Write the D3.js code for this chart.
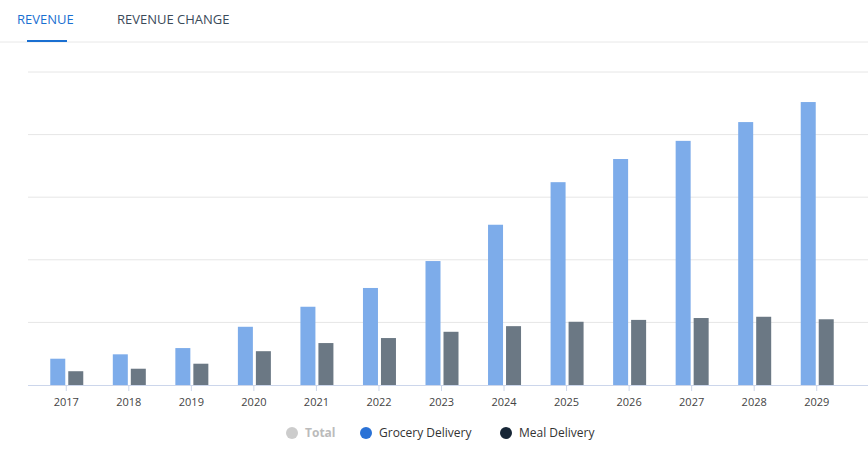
<!DOCTYPE html>
<html><head><meta charset="utf-8">
<script src="https://cdn.jsdelivr.net/npm/d3@7.9.0/dist/d3.min.js"></script>
<style>
body{margin:0;background:#fff;font-family:"Open Sans",sans-serif;}
</style></head><body>
<svg id="chart" width="868" height="462"></svg>
<script>
const years = ["2017","2018","2019","2020","2021","2022","2023","2024","2025","2026","2027","2028","2029"];
const grocery = [0.42,0.49,0.59,0.93,1.25,1.55,1.98,2.56,3.24,3.61,3.90,4.20,4.52];
const meal = [0.22,0.26,0.34,0.54,0.67,0.75,0.85,0.94,1.01,1.04,1.07,1.09,1.05];
const yTicks = [0,1,2,3,4,5];

const svg = d3.select("#chart");

// tabs
svg.append("text").attr("x",17).attr("y",24).attr("fill","#1a6fd1").attr("font-size",13).text("REVENUE");
svg.append("text").attr("x",117).attr("y",24).attr("fill","#3a4a5a").attr("font-size",13).text("REVENUE CHANGE");
svg.append("line").attr("x1",0).attr("x2",868).attr("y1",42).attr("y2",42).attr("stroke","#e8e8e8");
svg.append("rect").attr("x",27).attr("y",40).attr("width",40).attr("height",2).attr("fill","#1a6fd1");

const x = d3.scaleBand().domain(years).range([35,848]).padding(0);
const y = d3.scaleLinear().domain([0,5]).range([385,72]);

svg.append("g").selectAll("line").data(yTicks.slice(1)).join("line")
  .attr("x1",28).attr("x2",868).attr("y1",d=>y(d)).attr("y2",d=>y(d)).attr("stroke","#e6e6e6");

const bw = 15;
svg.append("g").selectAll("rect").data(grocery).join("rect")
  .attr("x",(d,i)=>x(years[i])+x.bandwidth()/2-bw-1).attr("width",bw)
  .attr("y",d=>y(d)).attr("height",d=>y(0)-y(d)).attr("fill","#7dacea");
svg.append("g").selectAll("rect").data(meal).join("rect")
  .attr("x",(d,i)=>x(years[i])+x.bandwidth()/2+2).attr("width",bw)
  .attr("y",d=>y(d)).attr("height",d=>y(0)-y(d)).attr("fill","#6b7884");

const ax = svg.append("g").attr("transform","translate(0,385)")
  .call(d3.axisBottom(x).tickSize(6).tickSizeOuter(0));
ax.select(".domain").attr("stroke","#ccd6eb").attr("d","M28,0.5H868");
ax.selectAll(".tick line").attr("stroke","#ccd6eb");
ax.selectAll("text").attr("fill","#444").attr("font-size",11).attr("font-family","Open Sans").attr("dy","1.1em");

// legend
const legend = [
  {label:"Total", color:"#cccccc", text:"#bbbbbb", x:292},
  {label:"Grocery Delivery", color:"#2a72d6", text:"#333", x:366},
  {label:"Meal Delivery", color:"#172636", text:"#333", x:506}
];
const lg = svg.append("g").selectAll("g").data(legend).join("g");
lg.append("circle").attr("cx",d=>d.x).attr("cy",433).attr("r",6).attr("fill",d=>d.color);
lg.append("text").attr("x",d=>d.x+13).attr("y",437).attr("font-size",12)
  .attr("font-weight",d=>d.label==="Total"?"bold":"normal")
  .attr("fill",d=>d.text).text(d=>d.label);
</script>
</body></html>
